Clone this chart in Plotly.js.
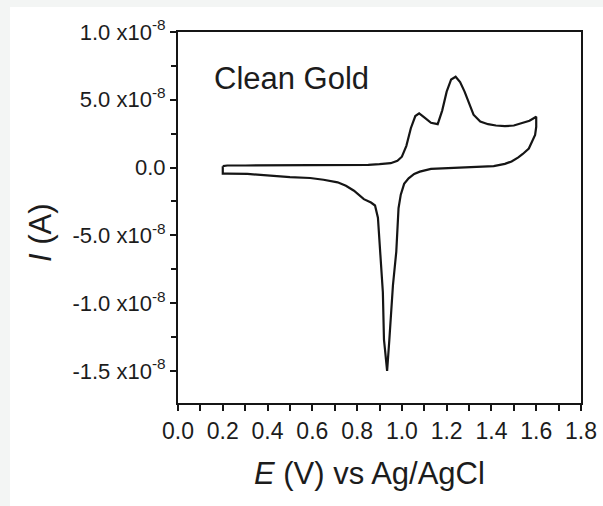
<!DOCTYPE html>
<html>
<head>
<meta charset="utf-8">
<script src="https://cdn.plot.ly/plotly-3.0.1.min.js"></script>
<style>
  html, body { margin: 0; padding: 0; background: #f3f5f4; width: 603px; height: 506px; overflow: hidden; }
  #cv { position: absolute; left: 10px; top: 7px; width: 593px; height: 499px; background: #ffffff; }
</style>
</head>
<body>
<div id="cv"></div>
<script>
// Cyclic voltammogram of a clean gold electrode.
// Potential E in V vs Ag/AgCl, current I in units of the axis labels (x10^-8 A).

// Forward (anodic) sweep, 0.2 V -> 1.6 V
const forwardE = [0.20, 0.22, 0.30, 0.40, 0.50, 0.60, 0.70, 0.80, 0.85, 0.90, 0.95, 0.98, 1.00, 1.02, 1.04, 1.06, 1.077, 1.10, 1.13, 1.16, 1.18, 1.20, 1.22, 1.24, 1.26, 1.28, 1.30, 1.32, 1.35, 1.385, 1.42, 1.46, 1.50, 1.535, 1.57, 1.60];
const forwardI = [0.10, 0.15, 0.15, 0.15, 0.15, 0.15, 0.15, 0.18, 0.20, 0.25, 0.32, 0.50, 0.80, 1.60, 2.90, 3.80, 4.00, 3.70, 3.30, 3.20, 4.20, 5.60, 6.50, 6.70, 6.30, 5.60, 4.70, 3.90, 3.40, 3.20, 3.10, 3.05, 3.10, 3.25, 3.45, 3.75];

// Reverse (cathodic) sweep, 1.6 V -> 0.2 V
const reverseE = [1.60, 1.595, 1.58, 1.567, 1.54, 1.52, 1.49, 1.46, 1.41, 1.35, 1.25, 1.13, 1.08, 1.055, 1.03, 1.01, 0.995, 0.985, 0.975, 0.96, 0.944, 0.934, 0.925, 0.92, 0.915, 0.903, 0.893, 0.88, 0.862, 0.83, 0.786, 0.75, 0.713, 0.65, 0.59, 0.50, 0.41, 0.31, 0.22, 0.20, 0.20];
const reverseI = [3.00, 2.40, 1.90, 1.40, 1.00, 0.75, 0.45, 0.27, 0.10, 0.05, 0.00, -0.10, -0.30, -0.47, -0.80, -1.20, -2.00, -3.00, -6.20, -8.70, -12.70, -15.00, -13.50, -12.70, -9.20, -6.20, -3.70, -2.80, -2.58, -2.33, -1.71, -1.35, -1.09, -0.90, -0.77, -0.70, -0.60, -0.47, -0.45, -0.45, 0.10];

// Axis tick labels and texts
const yTickVals = [10, 5, 0, -5, -10, -15];
const yTickText = ['1.0 x10<sup>-8</sup>', '5.0 x10<sup>-8</sup>', '0.0', '-5.0 x10<sup>-8</sup>', '-1.0 x10<sup>-8</sup>', '-1.5 x10<sup>-8</sup>'];
const sampleLabel = 'Clean Gold';
const xTitle = '<i>E</i> (V) vs Ag/AgCl';
const yTitle = '<i>I</i> (A)';

const ink = '#151515';
const textInk = '#1c1c1c';
const font = 'Liberation Sans, Arial, sans-serif';

const trace = {
  x: forwardE.concat(reverseE),
  y: forwardI.concat(reverseI),
  type: 'scatter',
  mode: 'lines',
  line: { color: ink, width: 2.2 },
  hoverinfo: 'skip'
};

const layout = {
  width: 593,
  height: 499,
  margin: { l: 168, r: 22, t: 25, b: 103 },
  paper_bgcolor: '#ffffff',
  plot_bgcolor: '#ffffff',
  showlegend: false,
  font: { family: font, color: textInk, size: 20 },
  xaxis: {
    range: [0, 1.8],
    tickmode: 'linear', tick0: 0, dtick: 0.2, tickformat: '.1f',
    ticks: 'outside', ticklen: 6, tickwidth: 2, tickcolor: ink,
    minor: { dtick: 0.1, ticks: 'outside', ticklen: 6, tickwidth: 2, tickcolor: ink },
    showline: true, linewidth: 2, linecolor: ink, mirror: true,
    showgrid: false, zeroline: false,
    tickfont: { family: font, size: 23, color: textInk }
  },
  yaxis: {
    range: [-17.37, 10],
    tickmode: 'array', tickvals: yTickVals, ticktext: yTickText,
    ticks: 'outside', ticklen: 6, tickwidth: 2, tickcolor: ink,
    minor: { dtick: 2.5, tick0: 0, ticks: 'outside', ticklen: 5, tickwidth: 2, tickcolor: ink },
    showline: true, linewidth: 2, linecolor: ink, mirror: true,
    showgrid: false, zeroline: false,
    tickfont: { family: font, size: 22, color: textInk }
  },
  annotations: [
    {
      text: sampleLabel,
      xref: 'paper', yref: 'paper',
      x: 0.2816, y: 0.875, xanchor: 'center', yanchor: 'middle',
      showarrow: false,
      font: { family: font, size: 31, color: textInk }
    },
    {
      // horizontal axis title
      text: xTitle,
      xref: 'paper', yref: 'paper',
      x: 0.476, y: -0.189, xanchor: 'center', yanchor: 'middle',
      showarrow: false,
      font: { family: font, size: 31, color: textInk }
    },
    {
      // vertical axis title
      text: yTitle,
      xref: 'paper', yref: 'paper',
      x: -0.340, y: 0.461, xanchor: 'center', yanchor: 'middle',
      textangle: -90,
      showarrow: false,
      font: { family: font, size: 31, color: textInk }
    }
  ]
};

Plotly.newPlot('cv', [trace], layout, { staticPlot: true, displayModeBar: false });
</script>
</body>
</html>
